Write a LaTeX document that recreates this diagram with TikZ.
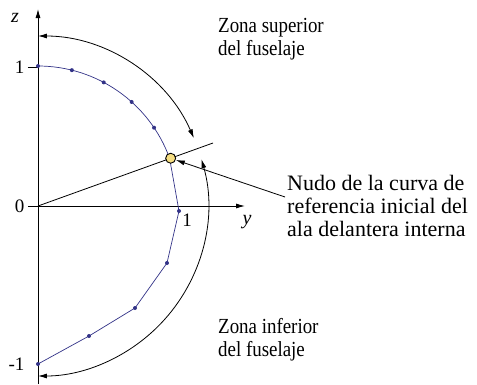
\documentclass[tikz,border=0pt]{standalone}
\usepackage{fontspec}
\setmainfont{Liberation Serif}
\newfontfamily\narrowserif[FakeStretch=0.88]{Liberation Serif}
\usetikzlibrary{arrows.meta}

\definecolor{curveblue}{RGB}{50,50,135}
\definecolor{nodefill}{RGB}{246,222,130}

\tikzset{
  axis/.style={-{Latex[length=9pt,width=5pt]}, line width=0.9pt},
  zonearc/.style={{Latex[length=9pt,width=5pt]}-{Latex[length=9pt,width=5pt]}, line width=0.8pt},
  refcurve/.style={curveblue, line width=0.7pt},
  knot/.style={circle, fill=curveblue, inner sep=0pt, minimum size=4pt},
  label/.style={align=left, anchor=west, inner sep=0pt}
}

\begin{document}
\begin{tikzpicture}[x=1pt, y=1pt]
  \useasboundingbox (-38,-178) rectangle (439,206);
  % axes
  \draw[axis] (0,-178) -- (0,197) node[inner sep=0pt] (ztip) {};
  \draw[axis] (0,0) -- (207,0) node[inner sep=0pt] (ytip) {};
  \node[font=\fontsize{20}{20}\selectfont\itshape] (zlab) at (-23,188) {z};
  \node[font=\fontsize{20}{20}\selectfont\itshape] (ylab) at (209,-16) {y};
  % ticks and values
  \draw[line width=0.8pt] (-10,139) -- (0,139);
  \draw[line width=0.8pt] (-10,0) -- (0,0);
  \node[font=\fontsize{19}{19}\selectfont, anchor=east] (one) at (-10,139) {1};
  \node[font=\fontsize{19}{19}\selectfont, anchor=east] (zero) at (-10,0) {0};
  \node[font=\fontsize{19}{19}\selectfont, anchor=east] (mone) at (-10,-158) {-1};
  % reference curve, upper part is an arc
  \draw[refcurve] (90:140) arc[start angle=90, end angle=20, radius=140];
  \draw[refcurve] (20:140) -- (141,-5) -- (129,-57) -- (97,-102) -- (51,-130) -- (0,-158);
  \foreach \a in {90,76,62,48,34}
    \node[knot] at (\a:140) {};
  \foreach \p in {(141,-5),(129,-57),(97,-102),(51,-130),(0,-158)}
    \node[knot] at \p {};
  \node[font=\fontsize{19}{19}\selectfont] (yone) at (149,-14) {1};
  % radial line through the knot
  \coordinate (o) at (0,0);
  \coordinate (rayend) at (19.8:186);
  \draw[line width=0.8pt] (o) -- (rayend);
  % fuselage zones
  \draw[zonearc] (23.5:170) arc[start angle=23.5, end angle=90, radius=170];
  \draw[zonearc] (16:170) arc[start angle=16, end angle=-90, radius=170];
  \node[label, font=\narrowserif\fontsize{21.5}{23}\selectfont] (sup) at (180,167) {Zona superior\\del fuselaje};
  \node[label, font=\narrowserif\fontsize{21.5}{23}\selectfont] (inf) at (180,-134) {Zona inferior\\del fuselaje};
  % knot of the reference curve
  \node[circle, draw, line width=0.9pt, fill=nodefill, inner sep=0pt, minimum size=10pt] (knot) at (19.8:141) {};
  \node[label, font=\fontsize{22}{23}\selectfont] (nudo) at (249,0) {Nudo de la curva de\\referencia inicial del\\ala delantera interna};
  \draw[line width=0.8pt, -{Latex[length=9pt,width=5pt]}] ([xshift=-2pt,yshift=9pt]nudo.west) -- (knot);
\end{tikzpicture}
\end{document}
